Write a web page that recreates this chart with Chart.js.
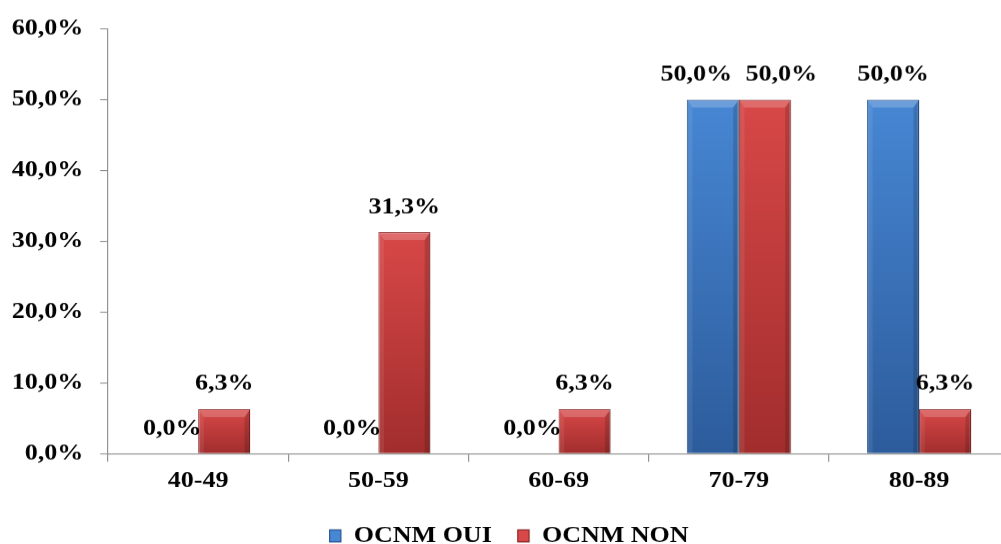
<!DOCTYPE html>
<html>
<head>
<meta charset="utf-8">
<script src="https://cdn.jsdelivr.net/npm/chart.js@4"></script>
<style>
html, body { margin: 0; padding: 0; background: #fff; overflow: hidden; width: 1001px; height: 544px; }
/* the source picture is stretched sideways, so the chart is drawn narrower and widened */
#wrap { position: absolute; left: 0; top: 0; width: 893px; height: 557px; transform: scaleX(1.13); transform-origin: 0 0; }
</style>
</head>
<body>
<div id="wrap"><canvas id="chart"></canvas></div>
<script>
// données
const categories = ['40-49', '50-59', '60-69', '70-79', '80-89'];
const seriesNames = ['OCNM OUI', 'OCNM NON'];
const ouiValues = [0, 0, 0, 50, 50];
const nonValues = [6.3, 31.3, 6.3, 50, 6.3];
const yTicks = [0, 10, 20, 30, 40, 50, 60];

const FONT = 'Liberation Serif';
const AXIS = '#8c8c8c';
const colors = [
    { top: '#4787d4', bottom: '#2d5c9c', line: '#27508a' },
    { top: '#d84848', bottom: '#a22d2d', line: '#862424' }
];

function fmt(v) {
    return v.toFixed(1).replace('.', ',') + '%';
}

// dégradé vertical sur chaque barre
function barFill(c) {
    return ctx => {
        const chart = ctx.chart;
        if (!chart.chartArea || ctx.type !== 'data') return c.top;
        const y = chart.scales.y;
        const top = y.getPixelForValue(ctx.raw);
        const bottom = y.getPixelForValue(0);
        if (bottom - top < 1) return c.top;
        const g = chart.ctx.createLinearGradient(0, top, 0, bottom);
        g.addColorStop(0, c.top);
        g.addColorStop(1, c.bottom);
        return g;
    };
}

// effet biseauté + étiquettes de valeurs
const barDecor = {
    id: 'barDecor',
    afterDatasetsDraw(chart) {
        const ctx = chart.ctx;
        ctx.save();
        chart.data.datasets.forEach((ds, di) => {
            chart.getDatasetMeta(di).data.forEach(bar => {
                const left = bar.x - bar.width / 2, right = bar.x + bar.width / 2;
                const top = bar.y, bottom = bar.base;
                const h = bottom - top;
                if (h < 2) return;
                const b = Math.min(8, h / 3), bx = 5;
                ctx.fillStyle = 'rgba(255,255,255,0.2)';
                ctx.beginPath();
                ctx.moveTo(left, top); ctx.lineTo(right, top);
                ctx.lineTo(right - bx, top + b); ctx.lineTo(left + bx, top + b);
                ctx.closePath(); ctx.fill();
                ctx.fillStyle = 'rgba(0,0,0,0.15)';
                ctx.beginPath();
                ctx.moveTo(right, top); ctx.lineTo(right, bottom);
                ctx.lineTo(right - bx, bottom); ctx.lineTo(right - bx, top + b);
                ctx.closePath(); ctx.fill();
                ctx.fillStyle = 'rgba(255,255,255,0.08)';
                ctx.beginPath();
                ctx.moveTo(left, top); ctx.lineTo(left + bx, top + b);
                ctx.lineTo(left + bx, bottom); ctx.lineTo(left, bottom);
                ctx.closePath(); ctx.fill();
            });
        });

        ctx.font = 'bold 23px "' + FONT + '"';
        ctx.fillStyle = '#000';
        ctx.textAlign = 'center';
        ctx.textBaseline = 'middle';
        const metaA = chart.getDatasetMeta(0).data, metaB = chart.getDatasetMeta(1).data;
        categories.forEach((c, i) => {
            const a = { text: fmt(ouiValues[i]), x: metaA[i].x, y: metaA[i].y - 25 };
            const b = { text: fmt(nonValues[i]), x: metaB[i].x, y: metaB[i].y - 25 };
            // écarter les étiquettes qui se chevauchent
            if (Math.abs(a.y - b.y) < 20) {
                const need = (ctx.measureText(a.text).width + ctx.measureText(b.text).width) / 2 + 12;
                const gap = b.x - a.x;
                if (gap < need) {
                    a.x -= (need - gap) / 2;
                    b.x += (need - gap) / 2;
                }
            }
            ctx.fillText(a.text, a.x, a.y);
            ctx.fillText(b.text, b.x, b.y);
        });
        ctx.restore();
    }
};

function draw() {
    new Chart(document.getElementById('chart'), {
        type: 'bar',
        data: {
            labels: categories,
            datasets: [
                { label: seriesNames[0], data: ouiValues, backgroundColor: barFill(colors[0]), borderColor: colors[0].line, borderWidth: 1 },
                { label: seriesNames[1], data: nonValues, backgroundColor: barFill(colors[1]), borderColor: colors[1].line, borderWidth: 1 }
            ]
        },
        options: {
            responsive: true,
            maintainAspectRatio: false,
            devicePixelRatio: 1.13,
            animation: false,
            categoryPercentage: 0.577,
            barPercentage: 1,
            layout: { padding: { top: 24, left: 8, right: 0, bottom: 0 } },
            scales: {
                x: {
                    grid: { display: true, drawOnChartArea: false, offset: true, tickLength: 8, color: AXIS },
                    border: { color: AXIS },
                    ticks: { color: '#000', padding: 6, font: { family: FONT, size: 23, weight: 'bold' } }
                },
                y: {
                    min: 0,
                    max: 60,
                    afterBuildTicks: axis => { axis.ticks = yTicks.map(v => ({ value: v })); },
                    afterFit: axis => { axis.width = 87.6; },
                    grid: { display: true, drawOnChartArea: false, tickLength: 7, color: AXIS },
                    border: { color: AXIS },
                    ticks: { color: '#000', padding: 15, font: { family: FONT, size: 23, weight: 'bold' }, callback: v => fmt(v) }
                }
            },
            plugins: {
                tooltip: { enabled: false },
                legend: {
                    position: 'bottom',
                    labels: {
                        color: '#000',
                        boxWidth: 10,
                        boxHeight: 12,
                        padding: 23,
                        font: { family: FONT, size: 23, weight: 'bold' },
                        generateLabels: () => seriesNames.map((n, i) => ({
                            text: n,
                            fillStyle: colors[i].top,
                            strokeStyle: colors[i].line,
                            lineWidth: 1,
                            datasetIndex: i
                        }))
                    }
                }
            }
        },
        plugins: [barDecor]
    });
}

document.fonts.load('bold 23px "' + FONT + '"').then(draw, draw);
</script>
</body>
</html>
